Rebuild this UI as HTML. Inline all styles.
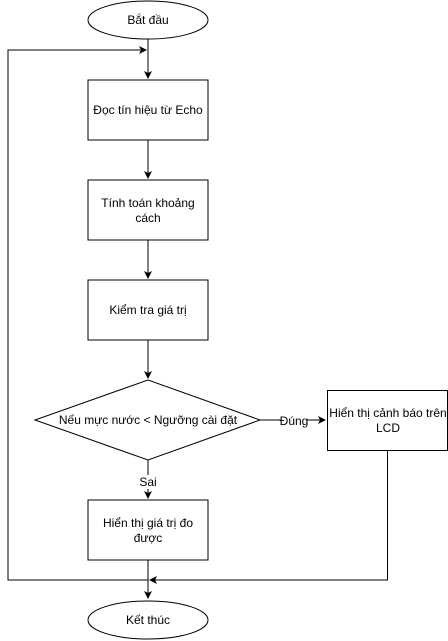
<!DOCTYPE html>
<html><head><meta charset="utf-8"><style>body{margin:0;background:#fff}svg{display:block}text{font-family:"Liberation Sans",sans-serif;font-size:12px;fill:#000}</style></head><body>
<svg width="448" height="641" viewBox="0 0 448 641">
<defs><marker id="a" markerWidth="8" markerHeight="8" refX="7" refY="4" orient="auto" markerUnits="userSpaceOnUse"><path d="M0,0 L8,4 L0,8 L2,4 Z" fill="#000"/></marker></defs>
<g fill="#fff" stroke="#000" stroke-width="1">
<ellipse cx="148" cy="20" rx="60" ry="19"/>
<rect x="88" y="80" width="120" height="60"/>
<rect x="88" y="180" width="120" height="60"/>
<rect x="88" y="280" width="120" height="60"/>
<polygon points="148,380 260,420 148,460 35,420"/>
<rect x="327.5" y="390.5" width="120" height="60"/>
<rect x="88" y="500" width="120" height="60"/>
<ellipse cx="148" cy="620" rx="60" ry="19"/>
</g>
<g fill="none" stroke="#000" stroke-width="1">
<path d="M148,39 V78" marker-end="url(#a)"/>
<path d="M148,140 V178" marker-end="url(#a)"/>
<path d="M148,240 V278" marker-end="url(#a)"/>
<path d="M148,340 V378" marker-end="url(#a)"/>
<path d="M148,460 V498" marker-end="url(#a)"/>
<path d="M260,420 H325" marker-end="url(#a)"/>
<path d="M148,560 V598" marker-end="url(#a)"/>
<path d="M387.5,450 V580 H150" marker-end="url(#a)"/>
<path d="M148,580 H8 V50 H146" marker-end="url(#a)"/>
</g>
<rect x="136" y="475" width="24" height="14" fill="#fff"/>
<rect x="281" y="414" width="26" height="14" fill="#fff"/>
<g text-anchor="middle">
<text x="148" y="24">Bắt đầu</text>
<text x="148" y="114">Đọc tín hiệu từ Echo</text>
<text x="148" y="207">Tính toán khoảng</text>
<text x="148" y="222">cách</text>
<text x="148" y="314">Kiểm tra giá trị</text>
<text x="148" y="424">Nếu mực nước &lt; Ngưỡng cài đặt</text>
<text x="388" y="417">Hiển thị cảnh báo trên</text>
<text x="388" y="432">LCD</text>
<text x="294" y="425" font-size="11">Đúng</text>
<text x="148" y="486" font-size="11">Sai</text>
<text x="148" y="527">Hiển thị giá trị đo</text>
<text x="148" y="542">được</text>
<text x="148" y="624">Kết thúc</text>
</g>
</svg>
</body></html>
